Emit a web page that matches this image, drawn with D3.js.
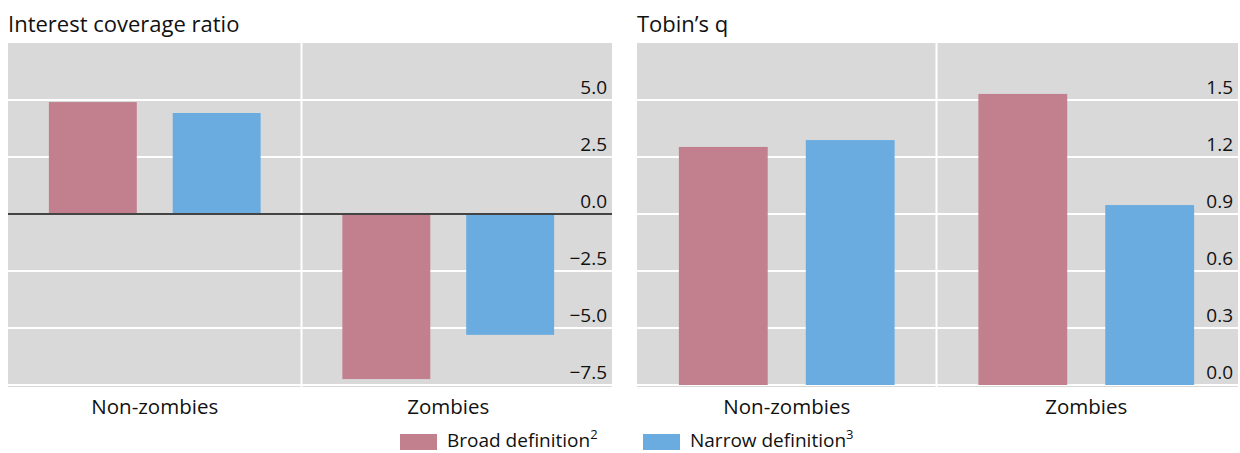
<!DOCTYPE html>
<html><head><meta charset="utf-8">
<script src="https://cdn.jsdelivr.net/npm/d3@7"></script>
<style>
body{margin:0;background:#fff;}
text{font-family:"Open Sans","Noto Sans",sans-serif;fill:#111;}
</style></head>
<body><svg id="c" width="1240" height="453"></svg>
<script>
const categories = ["Non-zombies", "Zombies"];
const seriesNames = ["Broad definition", "Narrow definition"];
const seriesSup = ["2", "3"];
const icrBroad = [4.91, -7.24];
const icrNarrow = [4.43, -5.30];
const tobinBroad = [1.253, 1.532];
const tobinNarrow = [1.289, 0.947];
const icrTicks = [-7.5, -5.0, -2.5, 0.0, 2.5, 5.0];
const tobinTicks = [0.0, 0.3, 0.6, 0.9, 1.2, 1.5];
const colors = ["#c27f8e", "#6aace0"];

const svg = d3.select("#c");

function panel(cfg) {
  const g = svg.append("g");
  const y = d3.scaleLinear().domain(cfg.domain).range([385, 43]);
  const x0 = d3.scaleBand().domain(categories).range([cfg.bandL, cfg.bandR]);
  const x1 = d3.scaleBand().domain(seriesNames).range([0, x0.bandwidth()]).paddingInner(cfg.inner).paddingOuter(cfg.outer);
  g.append("rect").attr("x", cfg.bgL).attr("y", 43).attr("width", cfg.bgR - cfg.bgL).attr("height", 344).attr("fill", "#d9d9d9");
  g.selectAll(".grid").data(cfg.ticks).join("line")
    .attr("x1", cfg.bgL).attr("x2", cfg.bgR)
    .attr("y1", d => y(d)).attr("y2", d => y(d))
    .attr("stroke", "#fff").attr("stroke-width", 2);
  g.append("line").attr("x1", x0(categories[1])).attr("x2", x0(categories[1]))
    .attr("y1", 43).attr("y2", 387).attr("stroke", "#fff").attr("stroke-width", 2);
  g.selectAll(".tl").data(cfg.ticks).join("text")
    .attr("x", cfg.bgR - 5).attr("y", d => y(d) - 6)
    .attr("text-anchor", "end").attr("font-size", 19)
    .text(d => d3.format(cfg.fmt)(d).replace("-", "\u2212"));
  const data = [];
  categories.forEach((c, i) => {
    seriesNames.forEach((s, j) => data.push({c, s, v: cfg.values[j][i], j}));
  });
  g.selectAll(".bar").data(data).join("rect")
    .attr("x", d => x0(d.c) + x1(d.s))
    .attr("width", x1.bandwidth())
    .attr("y", d => y(Math.max(0, d.v)))
    .attr("height", d => Math.abs(y(d.v) - y(0)))
    .attr("fill", d => colors[d.j]);
  if (cfg.zeroLine) {
    g.append("line").attr("x1", cfg.bgL).attr("x2", cfg.bgR).attr("y1", y(0)).attr("y2", y(0))
      .attr("stroke", "#444").attr("stroke-width", 2);
  }
  g.selectAll(".cl").data(categories).join("text")
    .attr("x", d => x0(d) + x0.bandwidth() / 2).attr("y", 414)
    .attr("text-anchor", "middle").attr("font-size", 20.5).text(d => d);
  g.append("text").attr("x", cfg.bgL).attr("y", 32).attr("font-size", 22).text(cfg.title);
}

panel({title: "Interest coverage ratio", domain: [-7.5, 7.5], ticks: icrTicks, fmt: ".1f",
  values: [icrBroad, icrNarrow], bandL: 8, bandR: 595, bgL: 8, bgR: 612,
  inner: 0.29, outer: 0.33, zeroLine: true});
panel({title: "Tobin\u2019s q", domain: [0, 1.8], ticks: tobinTicks, fmt: ".1f",
  values: [tobinBroad, tobinNarrow], bandL: 637, bandR: 1236, bgL: 637, bgR: 1238,
  inner: 0.3, outer: 0.33, zeroLine: false});

const leg = svg.append("g");
const legX = [400, 643];
seriesNames.forEach((s, i) => {
  leg.append("rect").attr("x", legX[i]).attr("y", 434).attr("width", 37).attr("height", 16).attr("fill", colors[i]);
  const t = leg.append("text").attr("x", legX[i] + 47).attr("y", 447).attr("font-size", 19);
  t.append("tspan").text(s);
  t.append("tspan").attr("dy", -8).attr("font-size", 13).text(seriesSup[i]);
});
</script></body></html>
